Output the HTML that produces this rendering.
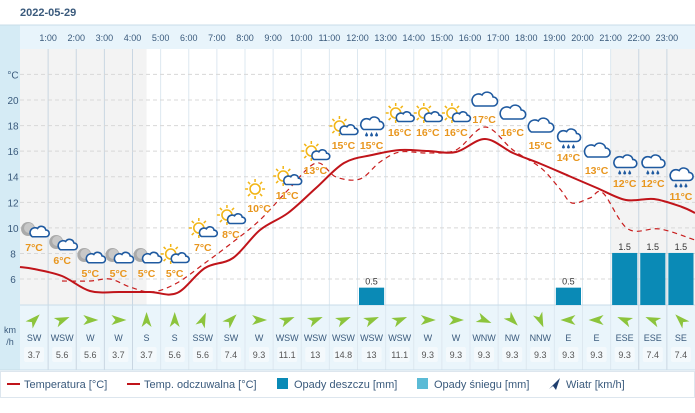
<!DOCTYPE html>
<html><head><meta charset="utf-8"><style>
body{margin:0;background:#fff;font-family:"Liberation Sans",sans-serif}
svg text{font-family:"Liberation Sans",sans-serif}
</style></head><body>
<svg id="s" width="695" height="408" xmlns="http://www.w3.org/2000/svg"></svg>
<script>
const W=28.125,X0=20;const cx=i=>X0+W*(i+0.5);const yT=t=>100+(20-t)*12.79;
let h='';
h+='<rect width="695" height="408" fill="#fff"/>';
h+='<text x="20" y="16" font-size="11" font-weight="bold" fill="#3a5a7c">2022-05-29</text>';
h+='<rect x="0" y="25" width="20" height="345" fill="#d5ebf5"/>';
h+='<rect x="20" y="25" width="675" height="24" fill="#e8f4fb"/>';
h+='<line x1="0" y1="25" x2="695" y2="25" stroke="#c8dce8"/>';
h+='<rect x="20" y="49" width="'+(W*4.5)+'" height="256" fill="#f3f3f3"/>';
h+='<rect x="'+(X0+W*21)+'" y="49" width="'+(695-X0-W*21)+'" height="256" fill="#f3f3f3"/>';
h+='<rect x="20" y="305" width="675" height="65" fill="#eaf5fb"/>';
for(let i=1;i<24;i++){let x=X0+W*i;h+=`<line x1="${x}" y1="49" x2="${x}" y2="370" stroke="${i<5||i>21?'#c9d6e2':'#dde8f0'}" stroke-width="1"/>`;
h+=`<text x="${x}" y="41" font-size="9" fill="#3a5a7c" text-anchor="middle">${i}:00</text>`;}
for(let t=6;t<=22;t+=2){let y=yT(t);h+=`<line x1="20" y1="${y}" x2="695" y2="${y}" stroke="#d8d8d8" stroke-dasharray="4,3"/>`;
h+=`<text x="13" y="${y+4}" font-size="10" fill="#3a5a7c" text-anchor="middle">${t==22?'°C':t}</text>`;}
h+='<line x1="20" y1="305" x2="695" y2="305" stroke="#c8dce8"/>';
[[12,.5],[19,.5],[21,1.5],[22,1.5],[23,1.5]].forEach(([i,v])=>{let hh=v*34.7;h+=`<rect x="${X0+W*i+1.5}" y="${305-hh}" width="${W-3}" height="${hh}" fill="#0a8ab6"/><text x="${cx(i)}" y="${302-hh}" font-size="9" fill="#333" text-anchor="middle">${v}</text>`;});
const T=[[20,267],[34,269],[62,276],[90,291],[120,292],[150,292],[177,293],[205,268],[233,258],[260,230],[288,213],[316,188],[344,163],[372,155],[400,150],[428,151],[456,152],[485,139],[513,153],[541,164],[569,176],[597,188],[626,200],[654,199],[682,207],[695,213]];
const D=[[62,281],[90,281],[110,279],[130,287],[152,292],[177,283],[205,263],[233,242],[260,220],[288,190],[316,163],[336,177],[360,179],[380,162],[400,152],[428,153],[456,150],[485,127],[513,150],[541,168],[560,189],[572,203],[590,198],[603,193],[628,229],[660,229],[695,240]];
function smooth(p){let d=`M${p[0][0]},${p[0][1]}`;for(let i=0;i<p.length-1;i++){let p0=p[i-1]||p[i],p1=p[i],p2=p[i+1],p3=p[i+2]||p2;
let c1=[p1[0]+(p2[0]-p0[0])/6,p1[1]+(p2[1]-p0[1])/6],c2=[p2[0]-(p3[0]-p1[0])/6,p2[1]-(p3[1]-p1[1])/6];d+=` C${c1} ${c2} ${p2}`;}return d;}
h+=`<path d="${smooth(D)}" fill="none" stroke="#c81e1e" stroke-width="1.2" stroke-dasharray="5,4"/>`;
h+=`<path d="${smooth(T)}" fill="none" stroke="#c0141a" stroke-width="2" stroke-linejoin="round"/>`;
const temps=[7,6,5,5,5,5,7,8,10,11,13,15,15,16,16,16,17,16,15,14,13,12,12,11];
const ly=[251,264,277,277,277,277,251,238,212,199,174,149,149,136,136,136,123,136,149,161,174,187,187,200];
const kind=['m','m','m','m','m','s','s','s','S','s','s','s','r','s','s','s','c','c','c','r','c','R','R','R'];
function cloud(x,y,s){return `<path d="M${x-9*s},${y+5*s} h${18*s} a${4.5*s},${4.5*s} 0 0 0 0,-${9*s} a${6*s},${6*s} 0 0 0 -${11*s},-${2*s} a${4*s},${4*s} 0 0 0 -${7*s},${11*s}z" fill="#fff" stroke="#1f5aa0" stroke-width="1.6"/>`;}
function sun(x,y,r){let g=`<circle cx="${x}" cy="${y}" r="${r}" fill="#fff" stroke="#f2b516" stroke-width="1.6"/>`;for(let k=0;k<8;k++){let a=k*Math.PI/4;g+=`<line x1="${x+Math.cos(a)*(r+2)}" y1="${y+Math.sin(a)*(r+2)}" x2="${x+Math.cos(a)*(r+5)}" y2="${y+Math.sin(a)*(r+5)}" stroke="#f2b516" stroke-width="1.5"/>`;}return g;}
kind.forEach((k,i)=>{let x=cx(i),y=ly[i]-20;
if(k=='m'){h+=`<circle cx="${x-6}" cy="${y-2}" r="7" fill="#aaa"/><circle cx="${x-5}" cy="${y-3}" r="5" fill="#c8c8c8"/>`+cloud(x+5,y+2,0.75);}
else if(k=='s'||k=='S'){h+=sun(x-4,y-3,5)+(k=='s'?cloud(x+5,y+2,0.7):'');}
else if(k=='c'){h+=cloud(x,y-2,1);}
else{h+=cloud(x,y-4,0.9);for(let j=-1;j<=1;j++)h+=`<path d="M${x+j*5},${y+3} l-1.5,3 a1.5,1.5 0 0 0 3,0z" fill="#1f5aa0"/>`;}
h+=`<text x="${x}" y="${ly[i]}" font-size="10.5" font-weight="bold" fill="#e8961e" text-anchor="middle">${temps[i]}°C</text>`;});
const dirs='SW WSW W W S S SSW SW W WSW WSW WSW WSW WSW W W WNW NW NNW E E ESE ESE SE'.split(' ');
const sp=[3.7,5.6,5.6,3.7,3.7,5.6,5.6,7.4,9.3,11.1,13,14.8,13,11.1,9.3,9.3,9.3,9.3,9.3,9.3,9.3,9.3,7.4,7.4];
const ang={N:0,NNE:22.5,NE:45,ENE:67.5,E:90,ESE:112.5,SE:135,SSE:157.5,S:180,SSW:202.5,SW:225,WSW:247.5,W:270,WNW:292.5,NW:315,NNW:337.5};
dirs.forEach((d,i)=>{let x=cx(i);
h+=`<path d="M0,-8 L5,7 L0,3 L-5,7z" fill="#8cc43c" transform="translate(${x},320) rotate(${ang[d]+180})"/>`;
h+=`<text x="${x}" y="341" font-size="9" fill="#3a5a7c" text-anchor="middle">${d}</text>`;
h+=`<rect x="${x-10}" y="347" width="20" height="15" rx="2" fill="#f4f9fc"/><text x="${x}" y="358" font-size="9" fill="#555" text-anchor="middle">${sp[i]}</text>`;});
h+='<text x="10" y="333" font-size="9" fill="#3a5a7c" text-anchor="middle">km</text><text x="10" y="345" font-size="9" fill="#3a5a7c" text-anchor="middle">/h</text>';
h+='<line x1="0" y1="370" x2="695" y2="370" stroke="#c8dce8"/><rect x="0.5" y="371.5" width="694" height="26" fill="none" stroke="#dde6ee"/>';
const L=(x,sym,t)=>sym+`<text x="${x}" y="388" font-size="11" fill="#3a5a7c">${t}</text>`;
h+=L(24,'<line x1="7" y1="384" x2="20" y2="384" stroke="#c0141a" stroke-width="2"/>','Temperatura [°C]');
h+=L(144,'<line x1="127" y1="384" x2="140" y2="384" stroke="#c0141a" stroke-width="2"/>','Temp. odczuwalna [°C]');
h+=L(294,'<rect x="277" y="378" width="11" height="11" fill="#0a8ab6"/>','Opady deszczu [mm]');
h+=L(434,'<rect x="417" y="378" width="11" height="11" fill="#5bbbd6"/>','Opady śniegu [mm]');
h+=L(566,'<path d="M560,378 L556,390 L553,386 L549,389z" fill="#1f3e6e"/>','Wiatr [km/h]');
document.getElementById('s').innerHTML=h;
</script>
</body></html>
